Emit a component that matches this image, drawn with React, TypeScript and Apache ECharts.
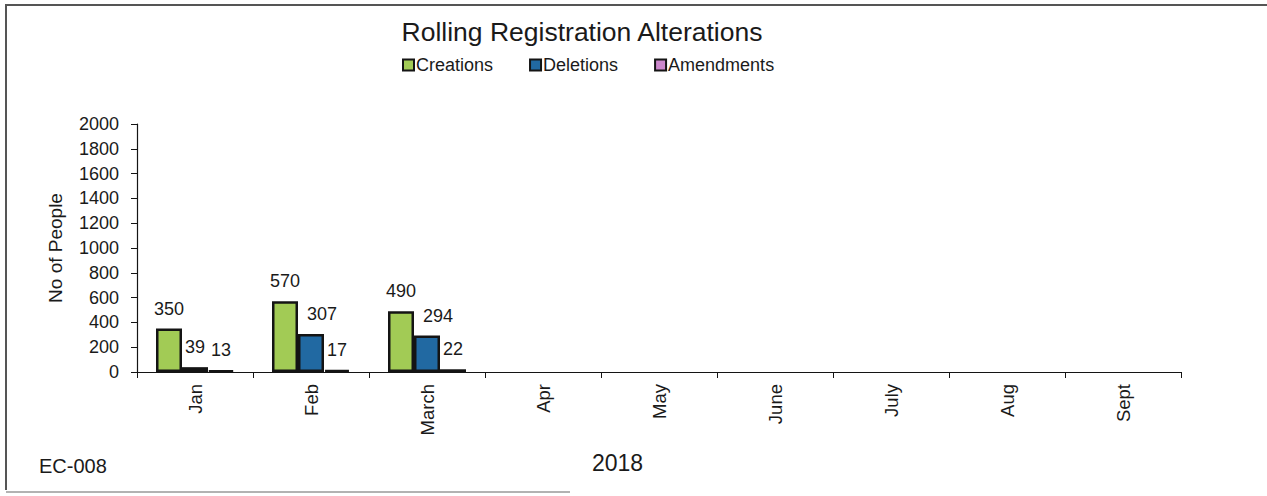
import React, { useEffect, useRef } from "react";
import * as echarts from "echarts";

const months = ["Jan", "Feb", "March", "Apr", "May", "June", "July", "Aug", "Sept"];
const creations = [350, 570, 490];
const deletions = [39, 307, 294];
const amendments = [13, 17, 22];
const yTicks = { min: 0, max: 2000, interval: 200 };

const FONT = "Liberation Sans, Arial, sans-serif";
const EDGE = "#141414";
const INK = "#1a1a1a";

export default function App() {
  const ref = useRef<HTMLDivElement>(null);

  useEffect(() => {
    if (!ref.current) return;
    const chart = echarts.init(ref.current, undefined, { renderer: "svg" });

    const label = {
      show: true,
      position: "top" as const,
      distance: 11,
      color: INK,
      fontSize: 18,
      fontFamily: FONT,
    };

    // Tall deletion labels are nudged right so they clear the creation labels beside them.
    const points = (data: number[], nudge: boolean) =>
      data.map((v) =>
        nudge && v > 100 ? { value: v, label: { offset: [11, 0] } } : { value: v }
      );

    const bar = (name: string, data: number[], color: string, nudge = false) => ({
      name,
      type: "bar" as const,
      data: points(data, nudge),
      barWidth: 26,
      barGap: "0%",
      itemStyle: { color, borderColor: EDGE, borderWidth: 2.5 },
      label,
    });

    chart.setOption({
      animation: false,
      backgroundColor: "#ffffff",
      textStyle: { fontFamily: FONT },
      title: {
        text: "Rolling Registration Alterations",
        left: 577,
        top: 13,
        textAlign: "center",
        textStyle: { fontSize: 26.5, fontWeight: "normal", color: INK, fontFamily: FONT },
      },
      legend: {
        top: 51,
        left: 397,
        itemGap: 36,
        itemWidth: 11,
        itemHeight: 11,
        icon: "rect",
        itemStyle: { borderColor: EDGE, borderWidth: 2 },
        textStyle: { fontSize: 18, color: INK, fontFamily: FONT, padding: [0, 0, 0, -3] },
        data: ["Creations", "Deletions", "Amendments"],
      },
      grid: { left: 137, right: 86, top: 124, bottom: 124, containLabel: false },
      xAxis: {
        type: "category",
        data: months,
        axisLine: { lineStyle: { color: EDGE, width: 1.2 } },
        axisTick: { show: true, length: 6, lineStyle: { color: EDGE } },
        axisLabel: {
          rotate: 90,
          fontSize: 18.5,
          color: INK,
          fontFamily: FONT,
          margin: 12,
          interval: 0,
        },
      },
      yAxis: {
        type: "value",
        min: yTicks.min,
        max: yTicks.max,
        interval: yTicks.interval,
        name: "No of People",
        nameLocation: "middle",
        nameGap: 72,
        nameTextStyle: { fontSize: 19, color: INK, fontFamily: FONT },
        splitLine: { show: false },
        axisLine: { show: true, lineStyle: { color: EDGE, width: 1.2 } },
        axisTick: { show: true, length: 6, lineStyle: { color: EDGE } },
        axisLabel: {
          fontSize: 18,
          color: INK,
          fontFamily: FONT,
          margin: 18,
          formatter: (v: number) => String(v),
        },
      },
      graphic: [
        {
          type: "polyline",
          shape: { points: [[6, 490], [6, 5], [1267, 5]] },
          style: { stroke: "#555", lineWidth: 2, fill: "none" },
        },
        {
          type: "line",
          shape: { x1: 6, y1: 492, x2: 570, y2: 492 },
          style: { stroke: "#999", lineWidth: 1.5 },
        },
        {
          type: "text",
          left: 39,
          top: 456,
          style: { text: "EC-008", fontSize: 20, fill: INK, fontFamily: FONT },
        },
        {
          type: "text",
          left: 592,
          top: 451,
          style: { text: "2018", fontSize: 23, fill: INK, fontFamily: FONT },
        },
      ],
      series: [
        bar("Creations", creations, "#a2cb55"),
        bar("Deletions", deletions, "#2169a2", true),
        bar("Amendments", amendments, "#cc88cc"),
      ],
    });

    return () => chart.dispose();
  }, []);

  return <div ref={ref} style={{ width: 1267, height: 496, position: "absolute", left: 0, top: 0 }} />;
}
